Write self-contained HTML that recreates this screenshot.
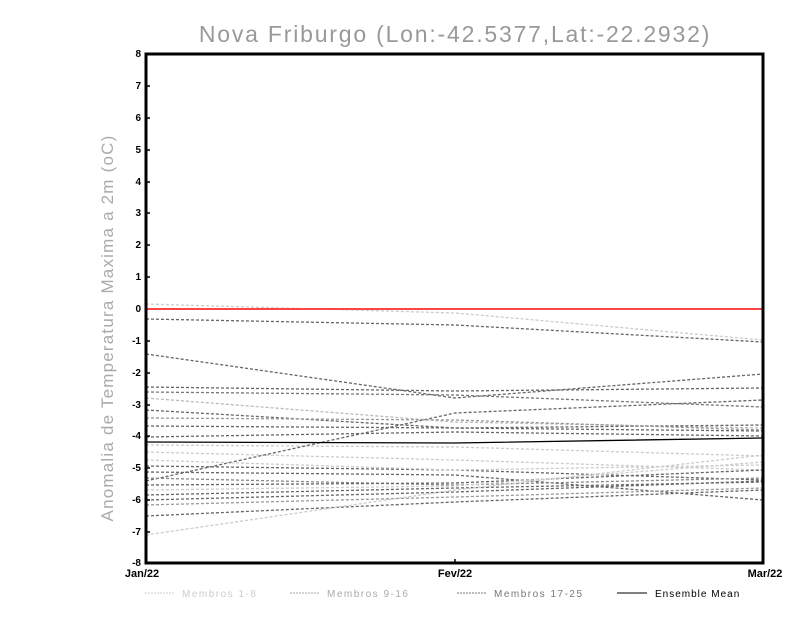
<!DOCTYPE html>
<html><head><meta charset="utf-8"><style>
body{margin:0;background:#fff;}
svg{display:block;font-family:"Liberation Sans",sans-serif;}
</style></head><body>
<svg width="800" height="618" viewBox="0 0 800 618" xmlns="http://www.w3.org/2000/svg">
<text x="455" y="42" text-anchor="middle" font-size="23" fill="#999" letter-spacing="1.8">Nova Friburgo (Lon:-42.5377,Lat:-22.2932)</text>
<text transform="translate(113,328) rotate(-90)" text-anchor="middle" font-size="17" fill="#aaa" letter-spacing="1.2">Anomalia de Temperatura Maxima a 2m (oC)</text>
<g stroke-width="1.3" stroke-dasharray="3,2" fill="none">
<polyline stroke="#ccc" points="146,304 455,313 763,340"/>
<polyline stroke="#666" points="146,319 455,325 763,342"/>
<polyline stroke="#666" points="146,354 455,398 763,374"/>
<polyline stroke="#666" points="146,387 455,391 763,388"/>
<polyline stroke="#777" points="146,392 455,395 763,407"/>
<polyline stroke="#bbb" points="146,398 455,422 763,428"/>
<polyline stroke="#666" points="146,410 455,428 763,425"/>
<polyline stroke="#666" points="146,426 455,428 763,431"/>
<polyline stroke="#666" points="146,437 455,432 763,436"/>
<polyline stroke="#ccc" points="146,445 455,447 763,456"/>
<polyline stroke="#ccc" points="146,452 455,460 763,470"/>
<polyline stroke="#666" points="146,466 455,470 763,480"/>
<polyline stroke="#666" points="146,481 455,413 763,400"/>
<polyline stroke="#666" points="146,472 455,475 763,500"/>
<polyline stroke="#888" points="146,478 455,485 763,478"/>
<polyline stroke="#666" points="146,485 455,483 763,470"/>
<polyline stroke="#666" points="146,495 455,488 763,482"/>
<polyline stroke="#ccc" points="146,490 455,486 763,462"/>
<polyline stroke="#666" points="146,500 455,492 763,481"/>
<polyline stroke="#999" points="146,505 455,497 763,488"/>
<polyline stroke="#666" points="146,516 455,502 763,490"/>
<polyline stroke="#ccc" points="146,535 455,490 763,455"/>
<polyline stroke="#ccc" points="146,460 455,470 763,465"/>
<polyline stroke="#999" points="146,418 455,420 763,430"/>
</g>
<polyline stroke="#000" stroke-width="1.3" fill="none" points="146,442 455,443 763,438"/>
<line x1="146" y1="309" x2="763" y2="309" stroke="#f44" stroke-width="2"/>
<rect x="146" y="54" width="617" height="509" fill="none" stroke="#000" stroke-width="3"/>
<g font-size="10" font-weight="bold" text-anchor="end" fill="#000">
<text x="141" y="57">8</text><text x="141" y="89">7</text><text x="141" y="121">6</text><text x="141" y="153">5</text><text x="141" y="185">4</text><text x="141" y="216">3</text><text x="141" y="248">2</text><text x="141" y="280">1</text><text x="141" y="312">0</text><text x="141" y="344">-1</text><text x="141" y="376">-2</text><text x="141" y="408">-3</text><text x="141" y="439">-4</text><text x="141" y="471">-5</text><text x="141" y="503">-6</text><text x="141" y="535">-7</text><text x="141" y="566">-8</text>
</g>
<g stroke="#000" stroke-width="1.5">
<line x1="146" y1="86" x2="150" y2="86"/><line x1="146" y1="118" x2="150" y2="118"/><line x1="146" y1="150" x2="150" y2="150"/><line x1="146" y1="182" x2="150" y2="182"/><line x1="146" y1="213" x2="150" y2="213"/><line x1="146" y1="245" x2="150" y2="245"/><line x1="146" y1="277" x2="150" y2="277"/><line x1="146" y1="341" x2="150" y2="341"/><line x1="146" y1="373" x2="150" y2="373"/><line x1="146" y1="405" x2="150" y2="405"/><line x1="146" y1="436" x2="150" y2="436"/><line x1="146" y1="468" x2="150" y2="468"/><line x1="146" y1="500" x2="150" y2="500"/><line x1="146" y1="532" x2="150" y2="532"/>
<line x1="455" y1="559" x2="455" y2="563"/>
</g>
<g font-size="11" font-weight="bold" text-anchor="middle">
<text x="142" y="577">Jan/22</text><text x="455" y="577">Fev/22</text><text x="765" y="577">Mar/22</text>
</g>
<g font-size="10" letter-spacing="1.5">
<line x1="145" y1="593" x2="175" y2="593" stroke="#ccc" stroke-dasharray="2,1"/>
<text x="182" y="597" fill="#ccc">Membros 1-8</text>
<line x1="290" y1="593" x2="320" y2="593" stroke="#aaa" stroke-dasharray="2,1"/>
<text x="327" y="597" fill="#aaa">Membros 9-16</text>
<line x1="457" y1="593" x2="487" y2="593" stroke="#777" stroke-dasharray="2,1"/>
<text x="494" y="597" fill="#777">Membros 17-25</text>
<line x1="617" y1="593" x2="647" y2="593" stroke="#000"/>
<text x="655" y="597" fill="#000" letter-spacing="1">Ensemble Mean</text>
</g>
</svg>
</body></html>
